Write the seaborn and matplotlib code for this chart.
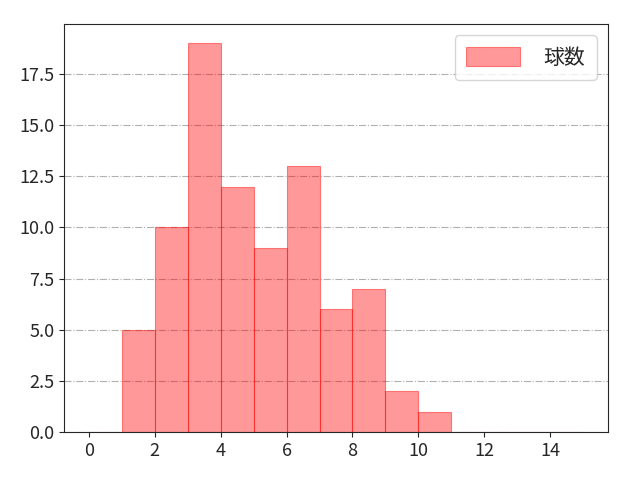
import numpy as np
import pandas as pd
import matplotlib
matplotlib.use("Agg")
import matplotlib.pyplot as plt
import seaborn as sns

# Histogram values
bin_left = [1, 2, 3, 4, 5, 6, 7, 8, 9, 10]
counts = [5, 10, 19, 12, 9, 13, 6, 7, 2, 1]
bin_edges = list(range(0, 16))
x_ticks = [0, 2, 4, 6, 8, 10, 12, 14]

sns.set_style("ticks")
plt.rcParams['font.family'] = ['Noto Sans CJK JP', 'DejaVu Sans']

df = pd.DataFrame({"球数": bin_left, "count": counts})

fig, ax = plt.subplots(figsize=(6.4, 4.8), dpi=100)
sns.histplot(data=df, x="球数", weights="count", bins=bin_edges,
             color="red", alpha=0.4, edgecolor=(1, 0, 0, 0.45), linewidth=0.8,
             label="球数", ax=ax)
ax.set_xlim(-0.75, 15.75)
ax.set_xticks(x_ticks)
ax.set_xlabel("")
ax.set_ylabel("")
ax.grid(axis="y", linestyle="-.", color="#b0b0b0", linewidth=0.8)
ax.set_axisbelow(True)
ax.tick_params(labelsize=13)
ax.legend(loc="upper right", fontsize=15, handlelength=2.6, handleheight=1.0,
          handletextpad=1.1, borderpad=0.55, borderaxespad=0.55)
fig.subplots_adjust(left=0.1, right=0.95, top=0.95, bottom=0.1)
fig.savefig("out.png")
